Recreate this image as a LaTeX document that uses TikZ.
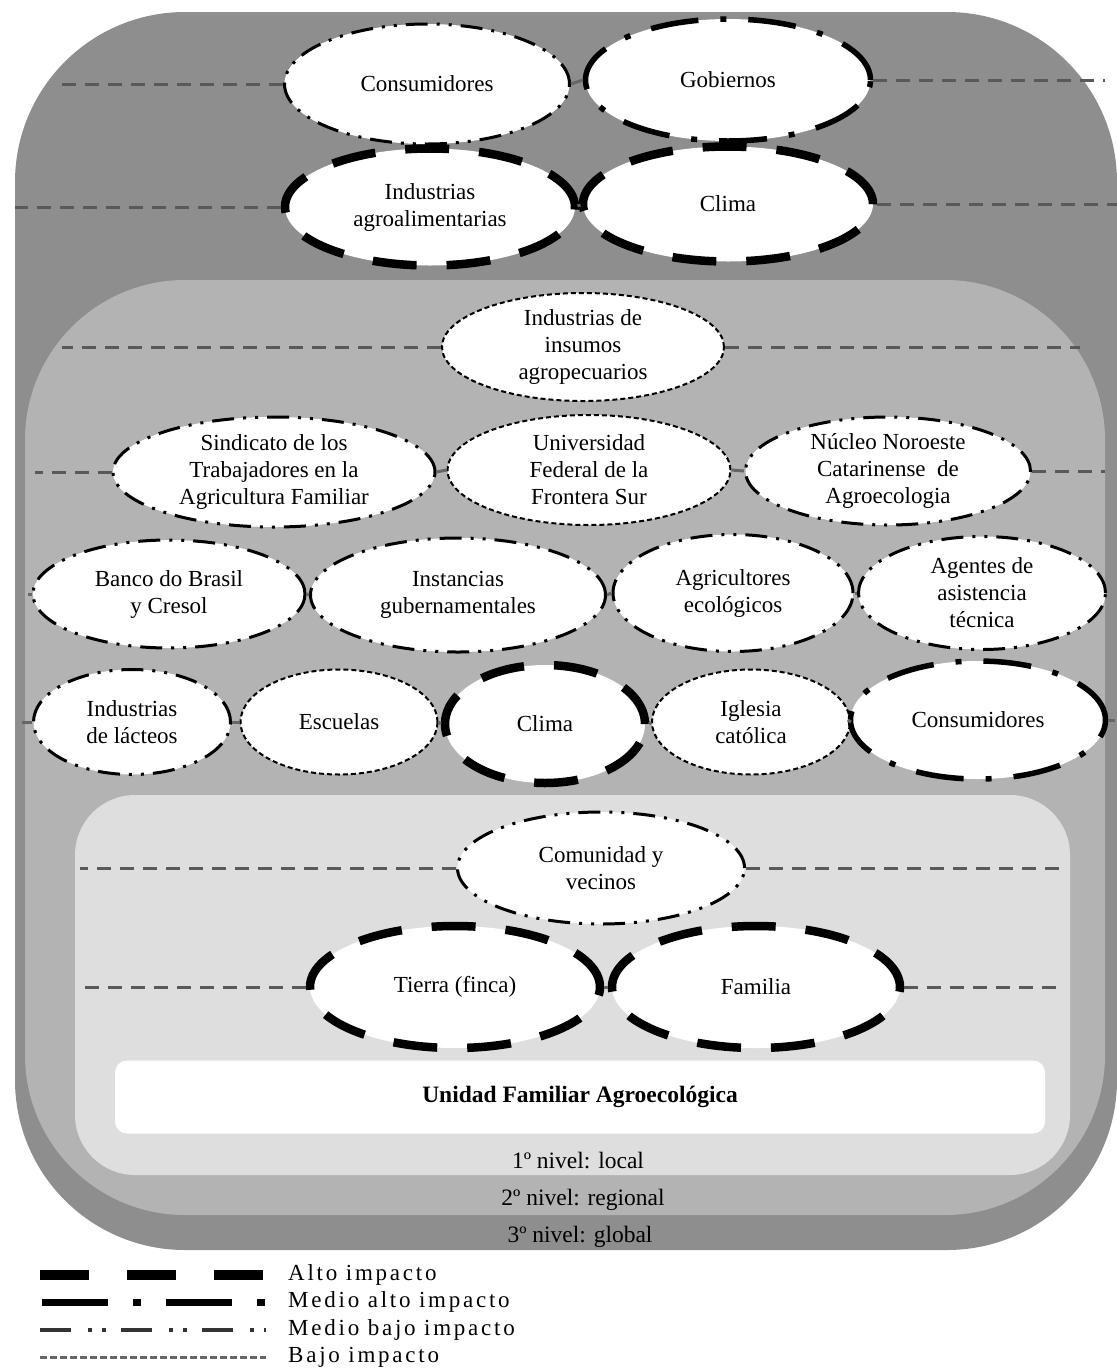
\documentclass[tikz,border=0pt]{standalone}
\usepackage{fontspec}
\setmainfont{Liberation Serif}
\usetikzlibrary{shapes.geometric}
\begin{document}
\begin{tikzpicture}[x=1pt,y=-1pt,
 ell/.style={ellipse, fill=white, inner sep=0pt, align=center, font=\fontsize{23}{27}\selectfont},
 alto/.style={ell, draw=black, line width=8.5pt, dash pattern=on 44pt off 30pt},
 malto/.style={ell, draw=black, line width=5.5pt, dash pattern=on 48pt off 22pt on 6pt off 22pt},
 mbajo/.style={ell, draw=black, line width=3pt, dash pattern=on 22pt off 9pt on 3pt off 9pt on 3pt off 9pt},
 bajo/.style={ell, draw=black, line width=2pt, dash pattern=on 5pt off 3pt},
 conn/.style={draw=black!65, line width=3pt, dash pattern=on 14pt off 9pt},
 tick/.style={draw=black!60, line width=3pt},
 lvl/.style={font=\fontsize{23.5}{26}\selectfont},
 legtxt/.style={anchor=west, inner sep=0pt, font=\fontsize{23}{25}\selectfont\addfontfeature{LetterSpace=12}},
 legalto/.style={draw=black, line width=10pt, dash pattern=on 49pt off 38pt},
 legmalto/.style={draw=black, line width=7pt, dash pattern=on 66pt off 25pt on 8pt off 25pt},
 legmbajo/.style={draw=black!80, line width=4pt, dash pattern=on 31pt off 17pt on 4pt off 10pt on 4pt off 15pt},
 legbajo/.style={draw=black!60, line width=3pt, dash pattern=on 7pt off 3pt},
]
\useasboundingbox (0,0) rectangle (1117,1369);
% level boxes
\fill[fill={rgb,255:red,142;green,142;blue,142}, rounded corners=170pt] (15,12) rectangle (1117,1250);
\fill[fill={rgb,255:red,179;green,179;blue,179}, rounded corners=160pt] (25,280) rectangle (1105,1215);
\fill[fill={rgb,255:red,222;green,222;blue,222}, rounded corners=60pt] (75,795) rectangle (1070,1175);
\node[fill=white, rounded corners=12pt, minimum width=930pt, minimum height=73pt, inner sep=0pt,
      font=\fontsize{23.5}{27}\selectfont\bfseries] (ufa) at (580,1097) {Unidad Familiar Agroecológica};
\node[lvl] (n1) at (578,1160) {1º nivel: local};
\node[lvl] (n2) at (583,1200) {2º nivel: regional};
\node[lvl] (n3) at (580,1237) {3º nivel: global};

% free ends of connectors
\coordinate (eA1) at (60,0);   \coordinate (eA2) at (1105,0);
\coordinate (eB1) at (15,0);   \coordinate (eB2) at (1117,0);
\coordinate (eC1) at (62,0);   \coordinate (eC2) at (1080,0);
\coordinate (eD1) at (35,0);   \coordinate (eD2) at (1105,0);
\coordinate (eE1) at (28,0);
\coordinate (eF1) at (22,0);   \coordinate (eF2) at (1115,0);
\coordinate (eG1) at (80,0);   \coordinate (eG2) at (1065,0);
\coordinate (eH1) at (78,0);   \coordinate (eH2) at (1065,0);

% ellipses - global
\node[mbajo, minimum width=285pt, minimum height=120pt] (consG) at (427,84) {Consumidores};
\node[malto, minimum width=285pt, minimum height=122pt] (gob) at (728,80) {Gobiernos};
\node[alto, minimum width=290pt, minimum height=117pt] (indA) at (430,207) {Industrias\\agroalimentarias};
\node[alto, minimum width=290pt, minimum height=115pt] (clima1) at (728,204) {Clima};
% regional
\node[bajo, minimum width=282pt, minimum height=108pt] (insu) at (583,347) {Industrias de\\insumos\\agropecuarios};
\node[mbajo, minimum width=322pt, minimum height=110pt] (sind) at (274,472) {Sindicato de los\\Trabajadores en la\\Agricultura Familiar};
\node[bajo, minimum width=283pt, minimum height=110pt] (univ) at (589,470) {Universidad\\Federal de la\\Frontera Sur};
\node[mbajo, minimum width=285pt, minimum height=108pt] (nucl) at (888,471) {Núcleo Noroeste\\Catarinense\ \ de\\Agroecologia};
\node[mbajo, minimum width=272pt, minimum height=108pt] (banco) at (169,594) {Banco do Brasil\\y Cresol};
\node[mbajo, minimum width=295pt, minimum height=114pt] (inst) at (458,595) {Instancias\\gubernamentales};
\node[mbajo, minimum width=240pt, minimum height=117pt] (agric) at (733,593) {Agricultores\\ecológicos};
\node[mbajo, minimum width=247pt, minimum height=113pt] (agent) at (982,593) {Agentes de\\asistencia\\técnica};
\node[mbajo, minimum width=197pt, minimum height=105pt] (lact) at (132,722) {Industrias\\de lácteos};
\node[bajo, minimum width=197pt, minimum height=105pt] (esc) at (339,722) {Escuelas};
\node[alto, minimum width=200pt, minimum height=118pt] (clima2) at (545,724) {Clima};
\node[bajo, minimum width=198pt, minimum height=105pt] (igl) at (751,722) {Iglesia\\católica};
\node[malto, minimum width=255pt, minimum height=118pt] (consR) at (978,720) {Consumidores};
% local
\node[mbajo, minimum width=287pt, minimum height=112pt] (com) at (601,868) {Comunidad y\\vecinos};
\node[alto, minimum width=290pt, minimum height=122pt] (tierra) at (455,987) {Tierra (finca)};
\node[alto, minimum width=288pt, minimum height=122pt] (fam) at (756,987) {Familia};

% connectors
\draw[conn] (consG.west) -- (consG.west -| eA1);
\draw[conn] (gob.east) -- (gob.east -| eA2);
\draw[tick] (consG.east) -- (gob.west);
\draw[conn] (indA.west) -- (indA.west -| eB1);
\draw[conn] (clima1.east) -- (clima1.east -| eB2);
\draw[tick] (indA.east) -- (clima1.west);
\draw[conn] (insu.west) -- (insu.west -| eC1);
\draw[conn] (insu.east) -- (insu.east -| eC2);
\draw[conn] (sind.west) -- (sind.west -| eD1);
\draw[tick] (sind.east) -- (univ.west);
\draw[tick] (univ.east) -- (nucl.west);
\draw[conn] (nucl.east) -- (nucl.east -| eD2);
\draw[tick] (banco.west) -- (banco.west -| eE1);
\draw[tick] (banco.east) -- (inst.west);
\draw[tick] (inst.east) -- (agric.west);
\draw[tick] (agric.east) -- (agent.west);
\draw[tick] (lact.west) -- (lact.west -| eF1);
\draw[tick] (lact.east) -- (esc.west);
\draw[tick] (esc.east) -- (clima2.west);
\draw[tick] (clima2.east) -- (igl.west);
\draw[tick] (igl.east) -- (consR.west);
\draw[tick] (consR.east) -- (consR.east -| eF2);
\draw[conn] (com.west) -- (com.west -| eG1);
\draw[conn] (com.east) -- (com.east -| eG2);
\draw[conn] (tierra.west) -- (tierra.west -| eH1);
\draw[tick] (tierra.east) -- (fam.west);
\draw[conn] (fam.east) -- (fam.east -| eH2);

% legend
\coordinate (la1) at (40,1275);  \coordinate (la2) at (266,1275);
\coordinate (lb1) at (42,1302);  \coordinate (lb2) at (266,1302);
\coordinate (lc1) at (40,1330);  \coordinate (lc2) at (266,1330);
\coordinate (ld1) at (40,1357);  \coordinate (ld2) at (266,1357);
\draw[legalto] (la1) -- (la2);
\draw[legmalto] (lb1) -- (lb2);
\draw[legmbajo] (lc1) -- (lc2);
\draw[legbajo] (ld1) -- (ld2);
\node[legtxt] (ta) at (288,1275) {Alto impacto};
\node[legtxt] (tb) at (288,1302) {Medio alto impacto};
\node[legtxt] (tc) at (288,1330) {Medio bajo impacto};
\node[legtxt] (td) at (288,1357) {Bajo impacto};
\end{tikzpicture}
\end{document}
